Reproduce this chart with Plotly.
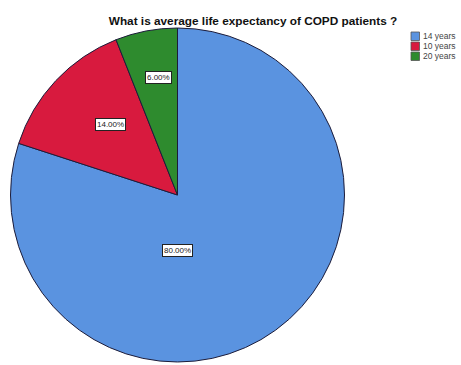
import math
import plotly.graph_objects as go

labels = ["14 years", "10 years", "20 years"]
values = [80, 14, 6]
colors = ["#5A93E0", "#D81A3E", "#2E8B2E"]
# where each percentage box sits: fraction of radius, fraction along the slice's arc
label_radius = [0.37, 0.65, 0.75]
label_arc = [0.625, 0.44, 0.59]

W, H = 461, 365
dom_x = [0.0228, 0.7473]
dom_y = [0.0082, 0.9233]

fig = go.Figure(go.Pie(
    labels=labels, values=values, sort=False, direction="clockwise", rotation=0,
    marker=dict(colors=colors, line=dict(color="#1c1c3a", width=1)),
    textinfo="none", hoverinfo="label+percent",
    domain=dict(x=dom_x, y=dom_y),
    showlegend=False,
))

total = sum(values)
cx = (dom_x[0] + dom_x[1]) / 2 * W
cy = (dom_y[0] + dom_y[1]) / 2 * H
R = min((dom_x[1] - dom_x[0]) * W, (dom_y[1] - dom_y[0]) * H) / 2
cum = 0
for v, f, a in zip(values, label_radius, label_arc):
    ang = (cum + v * a) / total * 2 * math.pi
    cum += v
    px = cx + f * R * math.sin(ang)
    py = cy + f * R * math.cos(ang)
    fig.add_annotation(
        x=px / W, y=py / H, xref="paper", yref="paper",
        text=f"{v / total * 100:.2f}%", showarrow=False,
        font=dict(family="Arial, Liberation Sans", size=8, color="#222"),
        bgcolor="white", bordercolor="#222", borderwidth=1, borderpad=1,
    )

# legend (compact, SPSS style)
leg_x, leg_top, step, sw = 411, 32, 10, 8.5
for i, (lab, col) in enumerate(zip(labels, colors)):
    y0 = leg_top + i * step
    fig.add_shape(type="rect", xref="paper", yref="paper",
                  x0=leg_x / W, x1=(leg_x + sw) / W,
                  y0=1 - (y0 + sw) / H, y1=1 - y0 / H,
                  fillcolor=col, line=dict(color="#555", width=0.8))
    fig.add_annotation(x=(leg_x + sw + 2) / W, y=1 - (y0 + sw / 2) / H,
                       xref="paper", yref="paper", xanchor="left", yanchor="middle",
                       text=lab, showarrow=False, borderpad=0,
                       font=dict(family="Arial, Liberation Sans", size=8.5, color="#444"))

fig.update_layout(
    width=W, height=H,
    margin=dict(l=0, r=0, t=0, b=0, autoexpand=False),
    paper_bgcolor="white",
    showlegend=False,
    title=dict(text="<b>What is average life expectancy of COPD patients ?</b>",
               x=253 / W, xanchor="center", y=1 - 21 / H, yanchor="middle",
               font=dict(family="Arial, Liberation Sans", size=11.8, color="#111")),
)

fig.write_html("out.html")
